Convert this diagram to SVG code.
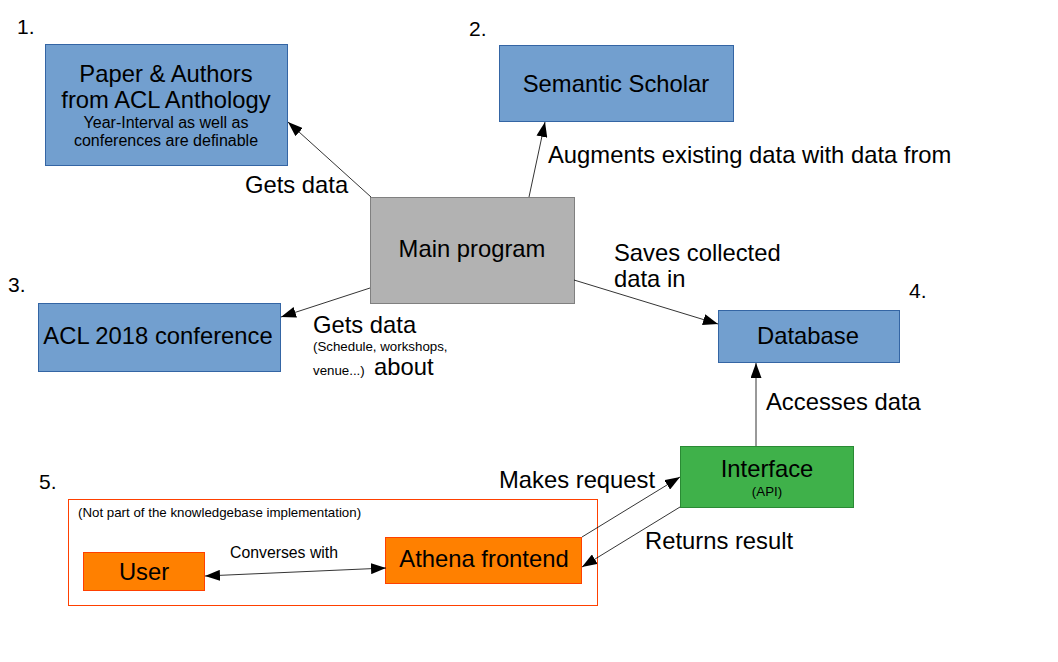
<svg xmlns="http://www.w3.org/2000/svg" width="1058" height="662" viewBox="0 0 1058 662">
<defs>
<style>
text{font-family:"Liberation Sans",Arial,sans-serif;fill:#000}
.big{font-size:23.8px}
.sm{font-size:13.3px}
.mid{font-size:16px}
.c{text-anchor:middle}
.blue{fill:#729fcf;stroke:#3465a4;stroke-width:1}
.gray{fill:#b2b2b2;stroke:#808080;stroke-width:1}
.orange{fill:#ff8000;stroke:#ff4000;stroke-width:1}
.green{fill:#3fb14a;stroke:#2a8a34;stroke-width:1}
.edge{stroke:#000;stroke-width:0.8;fill:none;marker-end:url(#ah)}
</style>
<marker id="ah" markerUnits="userSpaceOnUse" markerWidth="15" markerHeight="11" refX="15" refY="5.5" orient="auto-start-reverse" viewBox="0 0 15 11">
<path d="M0,0 L15,5.5 L0,11 Z" fill="#000"/>
</marker>
</defs>
<rect width="1058" height="662" fill="#fff"/>

<g id="numbers">
<text x="17" y="34" style="font-size:21px">1.</text>
<text x="469" y="36" style="font-size:21px">2.</text>
<text x="8" y="292" style="font-size:21px">3.</text>
<text x="909" y="298" style="font-size:21px">4.</text>
<text x="39" y="489" style="font-size:21px">5.</text>
</g>

<g id="frame">
<rect x="68.5" y="499.5" width="529" height="106" fill="#fff" stroke="#ff4000" stroke-width="1"/>
<text x="78" y="517" class="sm">(Not part of the knowledgebase implementation)</text>
</g>

<g id="node-acl-anthology">
<rect x="45.5" y="44.5" width="242" height="121" class="blue"/>
<text x="166" y="82" class="big c">Paper &amp; Authors</text>
<text x="166" y="108" class="big c">from ACL Anthology</text>
<text x="166" y="128" class="mid c">Year-Interval as well as</text>
<text x="166" y="146" class="mid c">conferences are definable</text>
</g>

<g id="node-semantic-scholar">
<rect x="499.5" y="45.5" width="234" height="76" class="blue"/>
<text x="616" y="92" class="big c">Semantic Scholar</text>
</g>

<g id="node-main">
<rect x="370.5" y="197.5" width="204" height="106" class="gray"/>
<text x="472" y="257" class="big c">Main program</text>
</g>

<g id="node-acl2018">
<rect x="38.5" y="303.5" width="242" height="68" class="blue"/>
<text x="158" y="344" class="big c">ACL 2018 conference</text>
</g>

<g id="node-database">
<rect x="718.5" y="310.5" width="181" height="52" class="blue"/>
<text x="808" y="344" class="big c">Database</text>
</g>

<g id="node-interface">
<rect x="680.5" y="446.5" width="173" height="61" class="green"/>
<text x="767" y="477" class="big c">Interface</text>
<text x="767" y="496" class="sm c">(API)</text>
</g>

<g id="node-user">
<rect x="83.5" y="552.5" width="121" height="38" class="orange"/>
<text x="144" y="580" class="big c">User</text>
</g>

<g id="node-athena">
<rect x="385.5" y="537.5" width="196" height="46" class="orange"/>
<text x="484" y="567" class="big c">Athena frontend</text>
</g>

<g id="connectors">
<line x1="371" y1="197" x2="288" y2="122" class="edge"/>
<line x1="529" y1="197" x2="545" y2="122" class="edge"/>
<line x1="370" y1="288" x2="281" y2="317" class="edge"/>
<line x1="574" y1="280" x2="718" y2="324" class="edge"/>
<line x1="756" y1="446" x2="756" y2="363" class="edge"/>
<line x1="582" y1="537" x2="680" y2="477" class="edge"/>
<line x1="680" y1="507" x2="582" y2="567" class="edge"/>
<line x1="205" y1="576" x2="386" y2="568" class="edge" style="marker-start:url(#ah)"/>
</g>

<g id="labels">
<text x="245" y="193" class="big">Gets data</text>
<text x="548" y="163" class="big">Augments existing data with data from</text>
<text x="614" y="261" class="big">Saves collected</text>
<text x="614" y="287" class="big">data in</text>
<text x="313" y="333" class="big">Gets data</text>
<text x="313" y="351" class="sm">(Schedule, workshops,</text>
<text x="313" y="375" class="sm">venue...)</text>
<text x="374" y="375" class="big">about</text>
<text x="766" y="410" class="big">Accesses data</text>
<text x="499" y="488" class="big">Makes request</text>
<text x="645" y="549" class="big">Returns result</text>
<text x="230" y="558" style="font-size:15.8px">Converses with</text>
</g>
</svg>
